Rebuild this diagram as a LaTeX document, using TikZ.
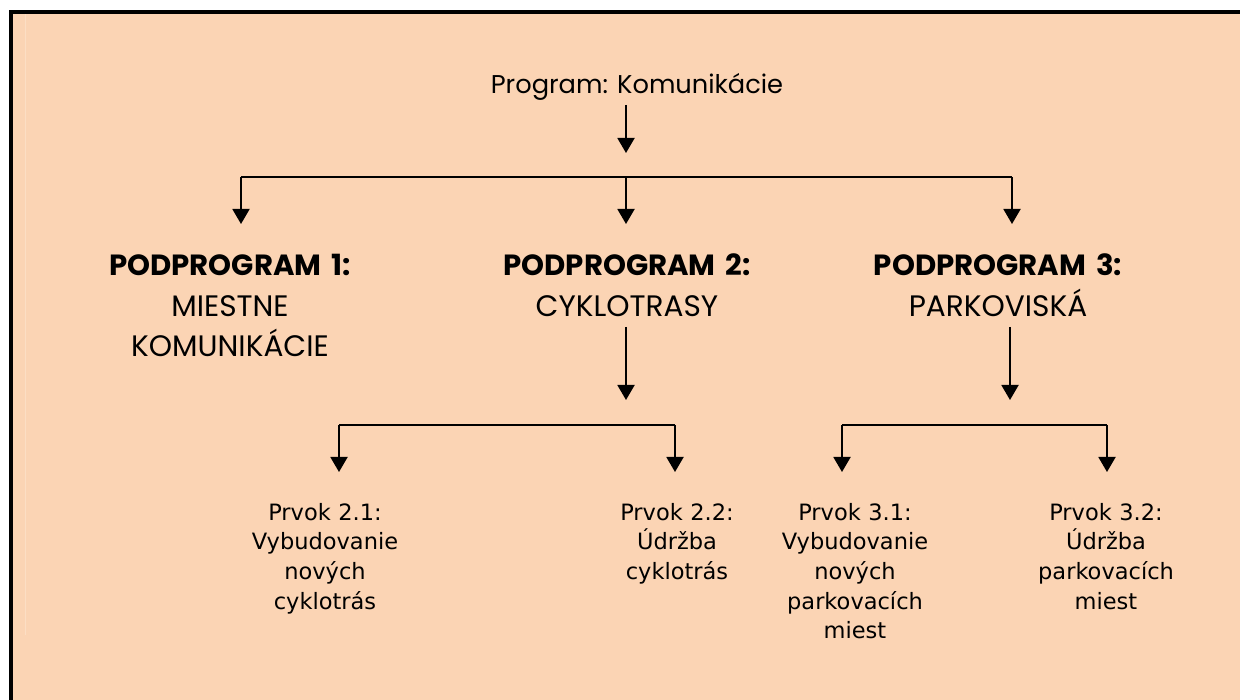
\documentclass[tikz,border=0pt]{standalone}
\usepackage{fontspec}
\setmainfont{Poppins}
\newfontfamily\prvokfont{DejaVu Sans}
\usetikzlibrary{arrows.meta}
\definecolor{peach}{RGB}{251,212,180}
\definecolor{peachlight}{RGB}{252,222,196}
% bold first line of a subprogramme block
\newcommand{\spheading}[1]{{\fontsize{29.2}{40.5}\selectfont\bfseries #1}}
\tikzset{
  conn/.style={line width=1.9pt, black},
  arr/.style={conn, -{Triangle[width=17pt,length=15pt]}},
  titlebox/.style={inner sep=0pt, anchor=base, font=\fontsize{25.7}{30}\selectfont},
  subprog/.style={inner sep=0pt, anchor=base, text width=320pt, align=center,
    font=\fontsize{29.6}{40.5}\selectfont},
  prvok/.style={inner sep=0pt, anchor=base, text width=220pt, align=center,
    font=\prvokfont\fontsize{22.5}{29.7}\selectfont},
}
\begin{document}
\begin{tikzpicture}[x=1pt,y=-1pt]
  % page and framed background
  \useasboundingbox (0,0) rectangle (1240,700);
  \fill[white] (0,0) rectangle (1240,700);
  \fill[peach] (11,12.5) rectangle (1240,700);
  \draw[peachlight, line width=1pt] (25,14.5) -- (25,635);
  \draw[line width=4pt] (11,700) -- (11,12.5) -- (1240,12.5);

  % programme title
  \node[titlebox] (prog) at (637,93.3) {Program: Komunikácie};

  % subprogrammes
  \node[subprog] (sp1) at (230,276) {\spheading{PODPROGRAM 1:}\\MIESTNE\\KOMUNIKÁCIE};
  \node[subprog] (sp2) at (627,276) {\spheading{PODPROGRAM 2:}\\CYKLOTRASY};
  \node[subprog] (sp3) at (998,276) {\spheading{PODPROGRAM 3:}\\PARKOVISKÁ};

  % elements
  \node[prvok] (e21) at (325,520) {Prvok 2.1:\\Vybudovanie\\nových\\cyklotrás};
  \node[prvok] (e22) at (677,520) {Prvok 2.2:\\Údržba\\cyklotrás};
  \node[prvok] (e31) at (855,520) {Prvok 3.1:\\Vybudovanie\\nových\\parkovacích\\miest};
  \node[prvok] (e32) at (1106,520) {Prvok 3.2:\\Údržba\\parkovacích\\miest};

  % junctions and arrow tips
  \coordinate (t0) at (626,105);
  \coordinate (a0) at (626,153);
  \coordinate (j1) at (241,177);
  \coordinate (j2) at (626,177);
  \coordinate (j3) at (1012,177);
  \coordinate (a1) at (241,224);
  \coordinate (a2) at (626,224);
  \coordinate (a3) at (1012,224);

  \coordinate (s2) at (626,327);
  \coordinate (b2) at (626,400);
  \coordinate (k21) at (339,425);
  \coordinate (k22) at (675,425);
  \coordinate (a21) at (339,472);
  \coordinate (a22) at (675,472);

  \coordinate (s3) at (1010,327);
  \coordinate (b3) at (1010,400);
  \coordinate (k31) at (842,425);
  \coordinate (k32) at (1107,425);
  \coordinate (a31) at (842,472);
  \coordinate (a32) at (1107,472);

  % programme to subprogrammes
  \draw[arr] (t0) -- (a0);
  \draw[conn] (j1) -- (j3);
  \draw[arr] (j1) -- (a1);
  \draw[arr] (j2) -- (a2);
  \draw[arr] (j3) -- (a3);

  % subprogramme 2 to its elements
  \draw[arr] (s2) -- (b2);
  \draw[conn] (k21) -- (k22);
  \draw[arr] (k21) -- (a21);
  \draw[arr] (k22) -- (a22);

  % subprogramme 3 to its elements
  \draw[arr] (s3) -- (b3);
  \draw[conn] (k31) -- (k32);
  \draw[arr] (k31) -- (a31);
  \draw[arr] (k32) -- (a32);
\end{tikzpicture}
\end{document}
